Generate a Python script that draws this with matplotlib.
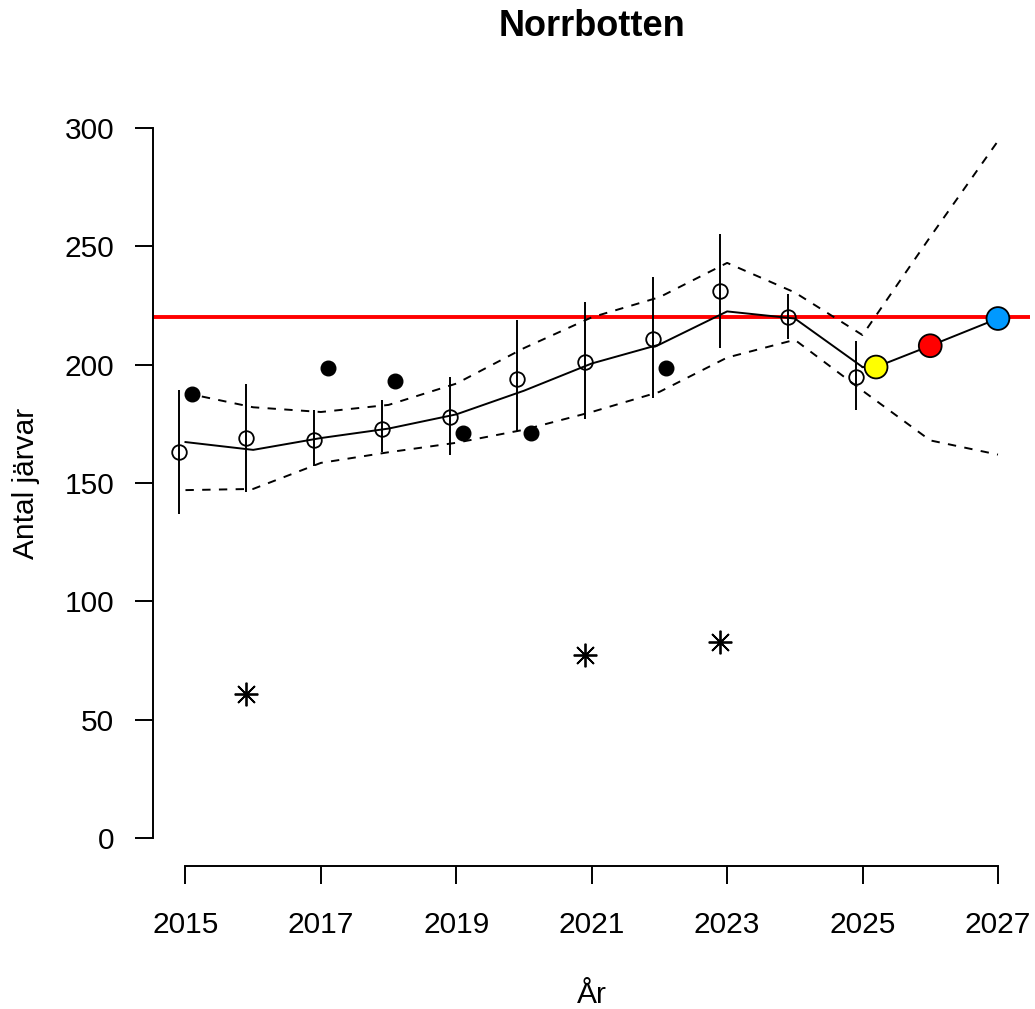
# Norrbotten: estimated and forecast number of wolverines
import matplotlib
matplotlib.use('Agg')
import matplotlib.pyplot as plt

plt.rcParams['font.family'] = ['Liberation Sans', 'DejaVu Sans']

# inventory estimates (open circles) with intervals, plotted slightly left of the year
years = [2015, 2016, 2017, 2018, 2019, 2020, 2021, 2022, 2023, 2024, 2025]
est = [163, 169, 168, 173, 178, 194, 201, 211, 231, 220, 195]
est_lo = [137, 146, 157, 163, 162, 171.5, 177, 186, 207, 211, 181]
est_hi = [189.5, 192, 181, 185, 195, 219, 226.5, 237, 255, 230, 210]

# model fit (solid) and band (dashed)
model = [167.3, 164, 169, 173, 179, 189, 200.5, 208.5, 222.5, 219.5, 199]
band_years = [2015, 2016, 2017, 2018, 2019, 2020, 2021, 2022, 2023, 2024, 2025, 2026, 2027]
band_hi = [188, 182, 180, 183, 192, 207, 220, 228.5, 243, 230.5, 212.5, 254, 294.5]
band_lo = [147, 147.5, 158.5, 163, 167, 172.5, 180, 188.5, 203, 210.5, 189, 168, 162]

# other counts
dots_x = [2015.1, 2017.1, 2018.1, 2019.1, 2020.1, 2022.1]
dots_y = [187.5, 198.5, 193, 171, 171, 198.5]
stars_x = [2015.9, 2020.9, 2022.9]
stars_y = [61, 77.3, 82.8]

# forecast
fc_x = [2025.2, 2026, 2027]
fc_y = [199, 208, 219.5]
fc_col = ['#ffff00', '#ff0000', '#0099ff']

target = 220

fig = plt.figure(figsize=(10.35, 10.09), dpi=100)
ax = fig.add_axes([0.1478, 0.1413, 0.8478, 0.760])

lw = 1.4
ax.axhline(target, color='#ff0000', lw=2.8, zorder=1)

ax.plot(band_years, band_hi, color='black', lw=lw, dashes=(4.3, 4.3), zorder=2)
ax.plot(band_years, band_lo, color='black', lw=lw, dashes=(4.3, 4.3), zorder=2)
ax.plot(years, model, color='black', lw=lw, zorder=2)
ax.plot([years[-1]] + fc_x, [model[-1]] + fc_y, color='black', lw=lw, zorder=2)

ex = [y - 0.1 for y in years]
ax.vlines(ex, est_lo, est_hi, color='black', lw=lw, zorder=3)
ax.plot(ex, est, 'o', mfc='none', mec='black', mew=1.3, ms=10.5, zorder=4)

ax.plot(dots_x, dots_y, 'o', color='black', ms=10.5, zorder=4)
ax.plot(stars_x, stars_y, ls='none', marker=(8, 2, 0), color='black',
        ms=17, mew=1.3, zorder=4)

ax.scatter(fc_x, fc_y, s=270, c=fc_col, edgecolors='black', linewidths=1.3, zorder=5)

ax.set_xlim(2014.52, 2027.48)
ax.set_ylim(-12, 312)
ax.set_xticks(range(2015, 2028, 2))
ax.set_yticks(range(0, 301, 50))
ax.spines['top'].set_visible(False)
ax.spines['right'].set_visible(False)
ax.spines['left'].set_bounds(0, 300)
ax.spines['bottom'].set_bounds(2015, 2027)
for s in ('left', 'bottom'):
    ax.spines[s].set_linewidth(1.4)
ax.tick_params(axis='both', length=13, width=1.4, labelsize=21.5)
ax.tick_params(axis='x', pad=19)
ax.tick_params(axis='y', pad=15)

fig.text(592 / 1035, 1 - 27 / 1009, 'Norrbotten', ha='center', va='center',
         fontsize=26, fontweight='bold')
fig.text(592 / 1035, 1 - 995 / 1009, 'År', ha='center', va='center', fontsize=21.5)
fig.text(26 / 1035, 1 - 483 / 1009, 'Antal järvar', ha='center', va='center',
         rotation=90, fontsize=21.5)

fig.savefig('out.png', dpi=100)
